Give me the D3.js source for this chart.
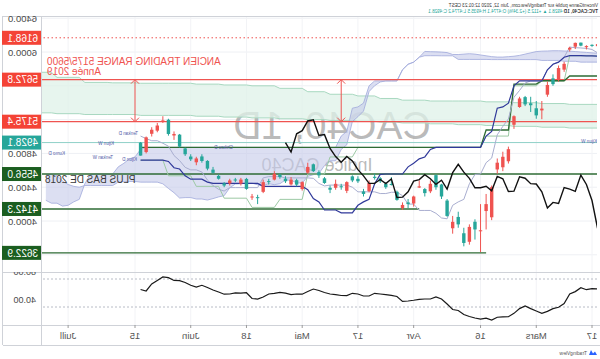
<!DOCTYPE html>
<html>
<head>
<meta charset="utf-8">
<script src="https://cdn.jsdelivr.net/npm/d3@7"></script>
<style>
  body { margin: 0; background: #fff; }
  svg { display: block; }
  text { font-family: "Liberation Sans", Arial, sans-serif; }
</style>
</head>
<body>
<div id="chart"></div>
<script>
/* CAC40 daily, Ichimoku D + W, RSI. The published picture is mirrored left-right. */

// ---- data ----
const firstIndex = -1; // bar index of the first candle (Feb 14)
const dates = ["02-14","02-17","02-18","02-19","02-20","02-21","02-24","02-25","02-26","02-27","02-28",
  "03-02","03-03","03-04","03-05","03-06","03-09","03-10","03-11","03-12","03-13",
  "03-16","03-17","03-18","03-19","03-20","03-23","03-24","03-25","03-26","03-27",
  "03-30","03-31","04-01","04-02","04-03","04-06","04-07","04-08","04-09","04-14",
  "04-15","04-16","04-17","04-20","04-21","04-22","04-23","04-24","04-27","04-28",
  "04-29","04-30","05-04","05-05","05-06","05-07","05-08","05-11","05-12","05-13",
  "05-14","05-15","05-18","05-19","05-20","05-21","05-22","05-25","05-26","05-27",
  "05-28","05-29","06-01","06-02","06-03","06-04","06-05","06-08","06-09","06-10",
  "06-11","06-12"];
const opens = [6093,6072,6070,6075,6108,6050,5860,5810,5620,5610,5330,
  5250,5370,5380,5450,5240,4850,4760,4690,4400,4200,
  3890,3900,3930,3740,3960,3990,4060,4290,4400,4440,
  4330,4410,4290,4200,4190,4250,4430,4400,4470,4510,
  4450,4320,4470,4480,4460,4400,4440,4370,4450,4540,
  4590,4640,4460,4430,4490,4470,4520,4560,4470,4460,
  4280,4290,4380,4490,4480,4480,4420,4500,4570,4620,
  4710,4740,4730,4790,4880,5030,5030,5190,5130,5080,
  4990,4774];
const highs = [6100,6090,6080,6111,6112,6062,5885,5840,5735,5650,5420,
  5420,5470,5480,5470,5250,4880,4820,4740,4420,4320,
  4200,4020,3960,3920,4110,4060,4260,4440,4550,4480,
  4390,4480,4300,4260,4220,4360,4520,4460,4520,4560,
  4480,4380,4530,4540,4470,4440,4490,4420,4520,4600,
  4680,4690,4470,4500,4520,4530,4560,4590,4500,4490,
  4310,4320,4510,4510,4510,4500,4460,4550,4640,4720,
  4790,4760,4790,4870,5030,5060,5210,5240,5160,5110,
  5000,4935];
const lows = [6055,6062,6030,6068,6035,6005,5765,5650,5600,5470,5205,
  5210,5290,5360,5340,5090,4680,4590,4560,4010,3900,
  3632,3780,3720,3700,3920,3850,4050,4260,4370,4330,
  4290,4390,4170,4150,4130,4240,4420,4380,4450,4490,
  4340,4290,4450,4460,4330,4370,4370,4330,4440,4510,
  4580,4560,4360,4410,4420,4450,4500,4480,4430,4330,
  4200,4250,4370,4420,4460,4420,4400,4490,4560,4600,
  4690,4660,4710,4770,4870,4960,5010,5160,5050,5000,
  4800,4774];
const closes = [6069,6085,6057,6111,6063,6029,5791,5679,5688,5495,5309,
  5334,5393,5466,5349,5139,4707,4636,4610,4044,4118,
  3881,3991,3754,3855,4048,3914,4242,4432,4543,4351,
  4378,4396,4207,4220,4154,4346,4438,4442,4506,4523,
  4353,4350,4499,4528,4357,4411,4393,4393,4505,4578,
  4671,4572,4378,4483,4433,4501,4549,4490,4472,4345,
  4282,4278,4498,4443,4491,4445,4445,4534,4608,4711,
  4764,4695,4763,4859,5022,5012,5198,5184,5069,5032,
  4816,4928.1];

// daily Ichimoku, one value per candle
const tenkanD = [5990,6030,6042,6048,6051,6058,5938,5881,5856,5791,5658,
  5658,5658,5633,5545,5465,5208,5120,5020,4745,4690,
  4556,4551,4441,4256,4226,4186,4026,4036,4091,4125,
  4125,4125,4200,4200,4300,4340,4340,4325,4325,4345,
  4345,4345,4345,4400,4425,4425,4425,4425,4415,4445,
  4505,4510,4510,4510,4510,4510,4525,4525,4525,4510,
  4395,4395,4395,4395,4395,4395,4355,4375,4420,4485,
  4580,4605,4605,4635,4715,4775,4885,4920,4950,4950,
  4975,5005];
const kijunD = [5952,5955,5955,5956,5956,5956,5938,5880,5855,5790,5658,
  5658,5658,5658,5658,5600,5395,5350,5335,5060,5005,
  4871,4871,4871,4871,4871,4871,4871,4871,4872,4847,
  4758,4736,4683,4641,4556,4556,4556,4556,4551,4441,
  4256,4226,4186,4096,4096,4096,4130,4130,4130,4225,
  4265,4370,4410,4410,4410,4410,4410,4410,4410,4410,
  4445,4445,4445,4445,4445,4445,4445,4445,4445,4460,
  4495,4495,4495,4535,4615,4630,4705,4720,4720,4720,
  4720,4720];
// daily Kumo, index -1 .. 98 (runs 26 bars into the future)
const spanA = [5985,5990,5995,6000,6005,6010,6012,6015,6015,6012,6010,6005,5990,5975,5960,5950,5945,5940,5940,5945,5955,5965,5975,5980,5975,5970,
  5971,5993,5999,6002,6004,6007,
  5938,5880,5855,5790,5658,5658,5658,5645,5601,5532,
  5301,5235,5177,4902,4847,4713,4711,4656,4563,4548,
  4528,4448,4453,4481,4486,4441,4430,4441,4420,4428,
  4448,4448,4440,4438,4393,4300,4285,4265,4248,4260,
  4260,4277,4277,4272,4335,4385,4440,4460,4460,4460,
  4460,4468,4468,4468,4460,4420,4420,4420,4420,4420,
  4420,4400,4410,4432,4472,4538,4550,4550];
const spanB = [5880,5880,5880,5880,5890,5890,5890,5900,5900,5900,5900,5910,5910,5910,5910,5910,5910,5910,5910,5910,5912,5912,5912,5912,5912,5912,
  5955,5955,5955,5956,5956,5956,
  5938,5880,5855,5790,5658,5658,5658,5658,5658,5600,
  5395,5350,5335,5060,5005,4871,4871,4871,4871,4871,
  4871,4871,4871,4871,4871,4871,4871,4871,4871,4871,
  4871,4871,4871,4871,4871,4871,4871,4871,4871,4871,
  4871,4871,4871,4871,4871,4871,4871,4871,4871,4872,
  4847,4758,4736,4683,4641,4556,4556,4556,4556,4551,
  4441,4256,4226,4186,4176,4211,4211,4245];

// weekly Ichimoku, one value per week (first bar index of each week)
const weekStarts = [-5,0,5,10,15,20,25,30,35,39,43,48,52,57,62,67,72,77,82,87,92,97];
const tenkanW = [5952,5955,5658,5600,5005,4871,4871,4871,4871,4871,4758,4556,4256,4161,4270,4410,4535,4720];
const kijunW = [5716,5716,5660,5620,5077,4871,4871,4871,4871,4871,4871,4871,4871,4871,4871,4871,4871,4871];
const kumoWA = [5380,5380,5390,5400,5410,5420,5420,5430,5450,5480,5500,5530,5570,5600,5610,5620,5630,5630,5635,5640,5700,5760];
const kumoWB = [5100,5100,5110,5120,5130,5140,5150,5160,5170,5180,5190,5200,5210,5220,5230,5240,5250,5250,5260,5260,5270,5280];

const rsi = [55.7,56.3,54.7,57.6,52,48.7,34.9,29.6,27.7,23.7,21,
  24.3,27.7,31.4,27.7,20.9,16.1,16,15.4,11.4,14,
  12.6,14.3,16.4,19.3,25,26.4,34.3,41.4,44.3,41.4,
  41.4,40.9,39.6,38.6,38.1,45,46.7,47.7,48.6,49.6,
  45.7,45.7,48.6,49.6,46.3,46.4,47.7,48.6,50.7,53.6,
  55.7,52.1,48.3,48.6,47.6,49.7,51,49.4,48.6,44.3,
  41.4,42.1,50.4,49.7,50.3,48.6,48.3,51.4,54.3,57.9,
  61,58.3,61,65,67.6,67.9,72,72.9,67.9,62.9,
  52.9,55];
const rsiBands = [70, 30];
const rsiTicks = [80, 40];

// drawn levels
const rangeLevels = [5672.8, 5175.4];
const targetLevel = 6168.1;
const lastPrice = 4928.1;
const supportLevels = [4556.0, 4142.3, 3622.9];
const supportStart = [-1, 31, 19];
const arrowIdx = [45, 82];
const priceTicks = [3600, 4000, 4400, 4800, 5200, 5600, 6000, 6400];
const timeTickIdx = [0, 10, 20, 32, 42, 52, 62, 72, 82, 94];
const timeTickLabels = ["17", "Mars", "16", "Avr", "17", "Mai", "18", "Juin", "15", "Juill"];

// ---- layout ----
const W = 600, H = 359;
const pane = { left: 3, right: 558, top: 16, bottom: 272 };
const rsiPane = { top: 272, bottom: 325 };
const axisBottom = 345;
const lagShift = 26;

const x = d3.scaleLinear().domain([0, 82]).range([8, 465]);
const y = d3.scaleLinear().domain([4000, 6000]).range([221, 52]);
const yr = d3.scaleLinear().domain([40, 80]).range([300, 272]);

const up = "#26a69a", down = "#ef5350", red = "#ef5350";

const svg = d3.select("#chart").append("svg").attr("width", W).attr("height", H);
svg.append("rect").attr("width", W).attr("height", H).attr("fill", "#fff");

const defs = svg.append("defs");
defs.append("clipPath").attr("id", "mainClip").append("rect")
  .attr("x", pane.left).attr("y", pane.top)
  .attr("width", pane.right - pane.left).attr("height", pane.bottom - pane.top);
defs.append("clipPath").attr("id", "rsiClip").append("rect")
  .attr("x", pane.left).attr("y", rsiPane.top)
  .attr("width", pane.right - pane.left).attr("height", rsiPane.bottom - rsiPane.top);
defs.append("clipPath").attr("id", "axisClip").append("rect")
  .attr("x", pane.right).attr("y", pane.top).attr("width", W - pane.right).attr("height", pane.bottom - pane.top);
defs.append("clipPath").attr("id", "rsiAxisClip").append("rect")
  .attr("x", pane.right).attr("y", rsiPane.top).attr("width", W - pane.right).attr("height", rsiPane.bottom - rsiPane.top);

// the whole picture is flipped horizontally
const root = svg.append("g").attr("transform", `translate(${W},0) scale(-1,1)`);

// grid
const grid = root.append("g").attr("clip-path", "url(#mainClip)");
grid.selectAll("line").data(priceTicks).join("line")
  .attr("x1", pane.left).attr("x2", pane.right)
  .attr("y1", d => y(d)).attr("y2", d => y(d))
  .attr("stroke", "#eef0f4");
root.append("g").selectAll("line").data(timeTickIdx).join("line")
  .attr("x1", d => x(d)).attr("x2", d => x(d))
  .attr("y1", pane.top).attr("y2", rsiPane.bottom)
  .attr("stroke", "#f2f3f6");

const main = root.append("g").attr("clip-path", "url(#mainClip)");

// watermark
main.append("text").attr("x", 268).attr("y", 139).attr("text-anchor", "middle")
  .attr("font-size", 39).attr("fill", "#8c8c8c").attr("fill-opacity", 0.6).text("CAC40, 1D");
main.append("text").attr("x", 283).attr("y", 171).attr("text-anchor", "middle")
  .attr("font-size", 18).attr("fill", "#8c8c8c").attr("fill-opacity", 0.6).text("Indice CAC40");

// weekly kumo
function weeklySteps(values, lastIdx) {
  const pts = [];
  values.forEach((v, w) => {
    const s = weekStarts[w];
    const e = w + 1 < weekStarts.length ? weekStarts[w + 1] - 1 : lastIdx;
    pts.push([s, v], [e, v]);
  });
  return pts;
}
const kwA = weeklySteps(kumoWA, 102), kwB = weeklySteps(kumoWB, 102);
const kumoW = kwA.map((p, k) => ({ i: p[0], a: p[1], b: kwB[k][1] }));
main.append("path").datum(kumoW)
  .attr("d", d3.area().x(d => x(d.i)).y0(d => y(d.a)).y1(d => y(d.b)))
  .attr("fill", "#dff2e8").attr("fill-opacity", 0.75);
[kwA, kwB].forEach(pts => {
  main.append("path").datum(pts)
    .attr("d", d3.line().x(d => x(d[0])).y(d => y(d[1])))
    .attr("fill", "none").attr("stroke", "#a8d8c0").attr("stroke-width", 1);
});

// daily kumo
const kumoD = spanA.map((a, k) => ({ i: k - 1, a: a, b: spanB[k] }));
main.append("path").datum(kumoD)
  .attr("d", d3.area().x(d => x(d.i)).y0(d => y(d.a)).y1(d => y(d.b)))
  .attr("fill", "#c5cae9").attr("fill-opacity", 0.6);
["a", "b"].forEach(key => {
  main.append("path").datum(kumoD)
    .attr("d", d3.line().x(d => x(d.i)).y(d => y(d[key])))
    .attr("fill", "none").attr("stroke", "#9fa8da").attr("stroke-width", 0.8);
});

// horizontal levels
main.append("line").attr("x1", pane.left).attr("x2", pane.right)
  .attr("y1", y(targetLevel)).attr("y2", y(targetLevel))
  .attr("stroke", red).attr("stroke-dasharray", "1.5,2.5");
main.selectAll(".range").data(rangeLevels).join("line")
  .attr("x1", pane.left).attr("x2", pane.right)
  .attr("y1", d => y(d)).attr("y2", d => y(d))
  .attr("stroke", red).attr("stroke-width", 1.2);
main.append("line").attr("x1", pane.left).attr("x2", pane.right)
  .attr("y1", y(lastPrice)).attr("y2", y(lastPrice))
  .attr("stroke", "#8fd1c8").attr("stroke-width", 1);
main.selectAll(".support").data(supportLevels).join("line")
  .attr("x1", (d, k) => x(supportStart[k])).attr("x2", pane.right)
  .attr("y1", d => y(d)).attr("y2", d => y(d))
  .attr("stroke", "#2e6b34").attr("stroke-width", 1.3);

// arrows across the old range
arrowIdx.forEach(i => {
  const ax = x(i), y1 = y(rangeLevels[0]), y2 = y(rangeLevels[1]);
  const g = main.append("g").attr("stroke", red).attr("fill", "none").attr("stroke-width", 1);
  g.append("line").attr("x1", ax).attr("x2", ax).attr("y1", y1).attr("y2", y2);
  g.append("path").attr("d", `M${ax - 4},${y1 + 4}L${ax},${y1}L${ax + 4},${y1 + 4}`);
  g.append("path").attr("d", `M${ax - 4},${y2 - 4}L${ax},${y2}L${ax + 4},${y2 - 4}`);
});

main.append("text").attr("x", 553).attr("y", 65).attr("text-anchor", "end")
  .attr("font-size", 10).attr("fill", red).text("ANCIEN TRADING RANGE 5175/5600");
main.append("text").attr("x", 553).attr("y", 75).attr("text-anchor", "end")
  .attr("font-size", 10).attr("fill", red).text("Année 2019");
main.append("text").attr("x", 555).attr("y", 183).attr("text-anchor", "end")
  .attr("font-size", 10).attr("fill", "#3a3a3a").text("PLUS BAS DE 2018");

// weekly tenkan / kijun
main.append("path").datum(weeklySteps(tenkanW, 81))
  .attr("d", d3.line().x(d => x(d[0])).y(d => y(d[1])))
  .attr("fill", "none").attr("stroke", "#9cc9a4").attr("stroke-width", 1);
main.append("path").datum(weeklySteps(kijunW, 81))
  .attr("d", d3.line().x(d => x(d[0])).y(d => y(d[1])))
  .attr("fill", "none").attr("stroke", "#2e6b34").attr("stroke-width", 1.3);

// daily tenkan / kijun
const lineIdx = d3.line().x((d, k) => x(k + firstIndex)).y(d => y(d));
main.append("path").datum(tenkanD).attr("d", lineIdx)
  .attr("fill", "none").attr("stroke", "#a9aed0").attr("stroke-width", 1);
main.append("path").datum(kijunD).attr("d", lineIdx)
  .attr("fill", "none").attr("stroke", "#30399a").attr("stroke-width", 1.2);

// candles
const bars = dates.map((d, k) => ({ i: k + firstIndex, o: opens[k], h: highs[k], l: lows[k], c: closes[k] }));
const candleW = 3.4;
main.append("g").selectAll("line").data(bars).join("line")
  .attr("x1", d => x(d.i)).attr("x2", d => x(d.i))
  .attr("y1", d => y(d.h)).attr("y2", d => y(d.l))
  .attr("stroke", d => (d.c >= d.o ? up : down)).attr("stroke-width", 1);
main.append("g").selectAll("rect").data(bars).join("rect")
  .attr("x", d => x(d.i) - candleW / 2).attr("width", candleW)
  .attr("y", d => y(Math.max(d.o, d.c)))
  .attr("height", d => Math.max(1, Math.abs(y(d.o) - y(d.c))))
  .attr("fill", d => (d.c >= d.o ? up : down));

// chikou: closes drawn 26 bars back
const chikou = bars.filter(d => d.i - lagShift >= firstIndex);
main.append("path").datum(chikou)
  .attr("d", d3.line().x(d => x(d.i - lagShift)).y(d => y(d.c)))
  .attr("fill", "none").attr("stroke", "#111").attr("stroke-width", 1.4);

// small line labels
const tagLabels = [
  ["Tenkan D", 462, 135], ["Kijun D", 463, 161], ["Kijun W", 486, 145],
  ["Tenkan W", 487, 159], ["Kumo D", 535, 155], ["Chikou D", 367, 149], ["Kijun W", 3, 143]
];
main.selectAll(".tag").data(tagLabels).join("text")
  .attr("x", d => d[1]).attr("y", d => d[2])
  .attr("font-size", 4.6).attr("fill", "#5560a8").text(d => d[0]);

// RSI pane
const rsiG = root.append("g").attr("clip-path", "url(#rsiClip)");
rsiG.selectAll(".band").data(rsiBands).join("line")
  .attr("x1", pane.left).attr("x2", pane.right)
  .attr("y1", d => yr(d)).attr("y2", d => yr(d))
  .attr("stroke", "#b8bcc6").attr("stroke-dasharray", "2,2");
rsiG.append("path").datum(rsi)
  .attr("d", d3.line().x((d, k) => x(k + firstIndex)).y(d => yr(d)))
  .attr("fill", "none").attr("stroke", "#1a1a1a").attr("stroke-width", 1.2);

// frame
const frame = root.append("g").attr("stroke", "#cfd2d8").attr("fill", "none");
frame.append("line").attr("x1", 0).attr("x2", 597).attr("y1", pane.top + 0.5).attr("y2", pane.top + 0.5);
frame.append("line").attr("x1", 0).attr("x2", 597).attr("y1", rsiPane.top + 0.5).attr("y2", rsiPane.top + 0.5);
frame.append("line").attr("x1", 0).attr("x2", 597).attr("y1", rsiPane.bottom + 0.5).attr("y2", rsiPane.bottom + 0.5);
frame.append("line").attr("x1", 0).attr("x2", 597).attr("y1", axisBottom + 0.5).attr("y2", axisBottom + 0.5);
frame.append("line").attr("x1", pane.right + 0.5).attr("x2", pane.right + 0.5).attr("y1", pane.top).attr("y2", axisBottom);
frame.append("line").attr("x1", 597.5).attr("x2", 597.5).attr("y1", pane.top).attr("y2", axisBottom);

// price axis: coloured level boxes, and the ordinary tick labels they do not cover
const boxes = [
  [targetLevel, "#f44336"], [rangeLevels[0], "#f44336"], [rangeLevels[1], "#f44336"],
  [lastPrice, up], [supportLevels[0], "#1b5e20"], [supportLevels[1], "#1b5e20"], [supportLevels[2], "#1b5e20"]
];
const shownTicks = priceTicks.filter(p => boxes.every(b => Math.abs(y(p) - y(b[0])) > 9));
const pAxis = root.append("g").attr("clip-path", "url(#axisClip)");
pAxis.selectAll("text").data(shownTicks).join("text")
  .attr("x", 563).attr("y", d => y(d) + 3.5)
  .attr("font-size", 9.5).attr("fill", "#4a4a4a").text(d => d.toFixed(1));
const boxG = pAxis.selectAll(".box").data(boxes).join("g");
boxG.append("rect").attr("x", pane.right + 1).attr("width", W - pane.right - 3)
  .attr("y", d => y(d[0]) - 7).attr("height", 14).attr("fill", d => d[1]);
boxG.append("text").attr("x", 562).attr("y", d => y(d[0]) + 3.8)
  .attr("font-size", 10).attr("fill", "#fff").text(d => d[0].toFixed(1));

// RSI axis
root.append("g").attr("clip-path", "url(#rsiAxisClip)")
  .selectAll("text").data(rsiTicks).join("text")
  .attr("x", 564).attr("y", d => yr(d) + 3.2)
  .attr("font-size", 9).attr("fill", "#4a4a4a").text(d => d.toFixed(2));

// time axis
const tAxis = root.append("g");
tAxis.selectAll("line").data(timeTickIdx).join("line")
  .attr("x1", d => x(d)).attr("x2", d => x(d))
  .attr("y1", rsiPane.bottom).attr("y2", rsiPane.bottom + 3)
  .attr("stroke", "#9a9a9a");
tAxis.selectAll("text").data(timeTickIdx).join("text")
  .attr("x", d => x(d)).attr("y", 338.5).attr("text-anchor", "middle")
  .attr("font-size", 9.5).attr("fill", "#555").text((d, k) => timeTickLabels[k]);

// header
root.append("text").attr("x", 2).attr("y", 7).attr("font-size", 4.6).attr("fill", "#333")
  .text("VincentGanne publié sur TradingView.com, Juin 12, 2020 12:01:23 CEST");
const h2 = root.append("text").attr("x", 2).attr("y", 13).attr("font-size", 4.6);
h2.append("tspan").attr("fill", "#333").attr("font-weight", "bold").text("TVC:CAC40, 1D ");
h2.append("tspan").attr("fill", up).text("4928.1 ▲ +112.5 (+2.34%) O:4774.1 H:4935.5 L:4774.2 C:4928.1");

// TradingView mark
const logo = root.append("g").attr("transform", "translate(3,349)");
logo.append("path").attr("d", "M0,6 L2,2.5 L4,4.5 L6,1 L8,6 Z").attr("fill", "#2962ff");
logo.append("text").attr("x", 10).attr("y", 5.5).attr("font-size", 5).attr("fill", "#555").text("TradingView");
</script>
</body>
</html>
